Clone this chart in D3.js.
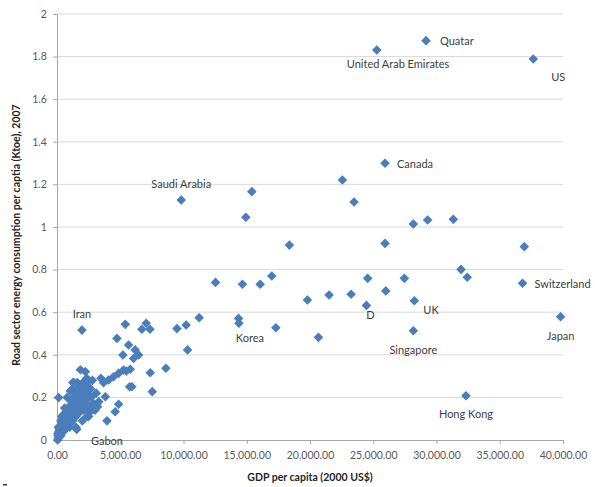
<!DOCTYPE html>
<html>
<head>
<meta charset="utf-8">
<script src="https://cdn.jsdelivr.net/npm/d3@7"></script>
<style>
  body { margin: 0; background: #fff; }
  text { font-family: Lato, "Liberation Sans", sans-serif; }
</style>
</head>
<body>
<svg id="vis"></svg>
<script>
const WIDTH = 595;
const HEIGHT = 487;

const margin = { top: 14, right: 32, bottom: 47, left: 57 };

// GDP per capita (2000 US$) and road sector energy per capita (Ktoe)
const gdp = [
  29170, 25280, 37650, 25930, 22560, 23480, 28170, 29300, 31330, 18370, 25930, 36940,
  9820, 15400, 14930,
  31940, 32430, 36800, 24560, 27460, 19800, 21510, 23250, 25990, 24460, 28250, 39810,
  20670, 28170, 32330,
  12530, 14660, 16060, 16980, 14350, 14380, 17300, 11240, 10210, 9480, 10320, 8610,
  7370, 7530, 1970, 130,
  5400, 4740, 7050, 6710, 7350, 5660, 5210, 6180, 6450, 6050, 5480, 5740, 5920, 5790,
  3680, 4080, 4470, 4870, 5260, 3470, 3820, 4870, 4600, 3950, 3210, 2630, 2500, 2240, 2420,
  50, 80, 120, 150, 200, 250, 300, 350, 400, 420, 500, 550, 600, 650, 700, 750, 800, 850,
  900, 950, 1000, 1050, 1100, 1150, 1200, 1250, 1300, 1350, 1400, 1450, 1500, 1550, 1600,
  1650, 1700, 1750, 1800, 1850, 1900, 1950, 2000, 2050, 2100, 2200, 2300, 2350, 2400, 2500,
  2600, 2700, 2800, 2900, 3000, 3100, 1850, 1000, 500, 300, 100, 1600, 1200, 1500, 2000,
  2500, 600, 800, 1050, 1250, 1560, 1320, 2370,
  180, 330, 460, 720, 880, 1130, 1380, 1620, 1780, 2150, 2280, 2450, 2750, 3300,
  260, 520, 780, 940, 1180, 1420, 1700, 1950, 2120, 2650, 60, 380
];
const energy = [
  1.875, 1.831, 1.789, 1.299, 1.221, 1.117, 1.014, 1.033, 1.036, 0.915, 0.923, 0.907,
  1.127, 1.166, 1.046,
  0.801, 0.764, 0.736, 0.759, 0.759, 0.657, 0.681, 0.684, 0.700, 0.632, 0.654, 0.579,
  0.482, 0.513, 0.208,
  0.740, 0.731, 0.731, 0.770, 0.571, 0.548, 0.527, 0.574, 0.540, 0.523, 0.423, 0.337,
  0.316, 0.227, 0.516, 0.199,
  0.543, 0.477, 0.548, 0.520, 0.520, 0.446, 0.399, 0.423, 0.399, 0.383, 0.324, 0.250, 0.250, 0.332,
  0.269, 0.282, 0.297, 0.313, 0.329, 0.290, 0.203, 0.168, 0.133, 0.090, 0.156, 0.203, 0.250, 0.321, 0.274,
  0.00, 0.02, 0.01, 0.04, 0.03, 0.06, 0.02, 0.05, 0.08, 0.04, 0.07, 0.10, 0.05, 0.09, 0.12, 0.07, 0.11, 0.14,
  0.08, 0.13, 0.16, 0.10, 0.12, 0.18, 0.15, 0.09, 0.20, 0.13, 0.17, 0.22, 0.11, 0.19, 0.24,
  0.15, 0.21, 0.26, 0.13, 0.18, 0.23, 0.16, 0.20, 0.27, 0.14, 0.19, 0.22, 0.29, 0.17, 0.15,
  0.13, 0.20, 0.28, 0.17, 0.14, 0.22, 0.33, 0.06, 0.12, 0.09, 0.06, 0.27, 0.24, 0.06, 0.09,
  0.11, 0.15, 0.20, 0.23, 0.27, 0.05, 0.27, 0.11,
  0.05, 0.07, 0.09, 0.10, 0.13, 0.14, 0.18, 0.20, 0.22, 0.24, 0.17, 0.21, 0.16, 0.18,
  0.02, 0.04, 0.06, 0.11, 0.12, 0.15, 0.17, 0.25, 0.26, 0.24, 0.03, 0.11
];

// labelled countries (point they belong to)
const labelNames = ["Quatar", "United Arab Emirates", "US", "Canada", "Saudi Arabia", "Switzerland",
  "D", "UK", "Japan", "Singapore", "Hong Kong", "Korea", "Iran", "Gabon"];
const labelGdp = [29170, 25280, 37650, 25930, 9820, 36800, 24460, 28250, 39810, 28170, 32330, 14380, 1970, 3950];
const labelEnergy = [1.875, 1.831, 1.789, 1.299, 1.127, 0.736, 0.632, 0.654, 0.579, 0.513, 0.208, 0.548, 0.516, 0.090];

const xTicks = [0, 5000, 10000, 15000, 20000, 25000, 30000, 35000, 40000];
const yTicks = [0, 0.2, 0.4, 0.6, 0.8, 1, 1.2, 1.4, 1.6, 1.8, 2];

const SVG = d3.select("#vis").attr("width", WIDTH).attr("height", HEIGHT);

const x_scale = d3.scaleLinear().domain([0, 40000]).range([margin.left, WIDTH - margin.right]);
const y_scale = d3.scaleLinear().domain([0, 2]).range([HEIGHT - margin.bottom, margin.top]);

// gridlines
SVG.append("g")
  .selectAll("line")
  .data(yTicks.filter(d => d > 0))
  .enter()
  .append("line")
  .attr("x1", x_scale(0)).attr("x2", x_scale(40000))
  .attr("y1", d => y_scale(d)).attr("y2", d => y_scale(d))
  .attr("stroke", "#d9d9d9").attr("stroke-width", 1);

const xAxis = SVG.append("g")
  .attr("transform", `translate(0, ${y_scale(0)})`)
  .call(d3.axisBottom(x_scale).tickValues(xTicks).tickFormat(d3.format(",.2f")).tickSize(4).tickSizeOuter(0));

const yAxis = SVG.append("g")
  .attr("transform", `translate(${x_scale(0)}, 0)`)
  .call(d3.axisLeft(y_scale).tickValues(yTicks).tickFormat(d3.format("~g")).tickSize(4).tickSizeOuter(0));

[xAxis, yAxis].forEach(a => {
  a.select(".domain").attr("stroke", "#a6a6a6");
  a.selectAll(".tick line").attr("stroke", "#a6a6a6");
  a.selectAll("text").attr("fill", "#595959").style("font-size", "10.5px");
});
xAxis.selectAll("text").attr("dy", "1.15em");
yAxis.selectAll("text").attr("dx", "-0.3em");

// points
const points = gdp.map((g, i) => ({ g: g, e: energy[i] }));
const diamond = d3.symbol(d3.symbolSquare, 46);

SVG.append("g")
  .selectAll("path")
  .data(points)
  .enter()
  .append("path")
  .attr("d", diamond)
  .attr("transform", d => `translate(${x_scale(d.g)}, ${y_scale(d.e)}) rotate(45)`)
  .attr("fill", "#4a7ebb");

// label placement relative to the point
const labelPos = {
  "Quatar": [14, 4, "start"],
  "United Arab Emirates": [-30, 18, "start"],
  "US": [18, 22, "start"],
  "Canada": [12, 4.5, "start"],
  "Saudi Arabia": [0, -12, "middle"],
  "Switzerland": [12, 4.5, "start"],
  "D": [4, 14, "middle"],
  "UK": [9, 13, "start"],
  "Japan": [0, 23, "middle"],
  "Singapore": [0, 23, "middle"],
  "Hong Kong": [0, 22, "middle"],
  "Korea": [11, 19, "middle"],
  "Iran": [0, -12, "middle"],
  "Gabon": [0, 24, "middle"]
};

SVG.append("g")
  .selectAll("text")
  .data(labelNames)
  .enter()
  .append("text")
  .attr("x", (d, i) => x_scale(labelGdp[i]) + labelPos[d][0])
  .attr("y", (d, i) => y_scale(labelEnergy[i]) + labelPos[d][1])
  .attr("text-anchor", d => labelPos[d][2])
  .attr("fill", "#404040")
  .style("font-size", "11px")
  .text(d => d);

// axis titles
SVG.append("text")
  .attr("x", (x_scale(0) + x_scale(40000)) / 2)
  .attr("y", 481)
  .attr("text-anchor", "middle")
  .style("font-size", "10.5px")
  .style("font-weight", "bold")
  .attr("fill", "#262626")
  .text("GDP per capita (2000 US$)");

SVG.append("text")
  .attr("transform", "translate(20, 235) rotate(-90)")
  .attr("text-anchor", "middle")
  .style("font-size", "10.5px")
  .style("font-weight", "bold")
  .attr("fill", "#262626")
  .text("Road sector energy consumption per captia (Ktoe), 2007");

// little stray mark bottom left
SVG.append("rect").attr("x", 3).attr("y", 484).attr("width", 4).attr("height", 1.5).attr("fill", "#333");
</script>
</body>
</html>
